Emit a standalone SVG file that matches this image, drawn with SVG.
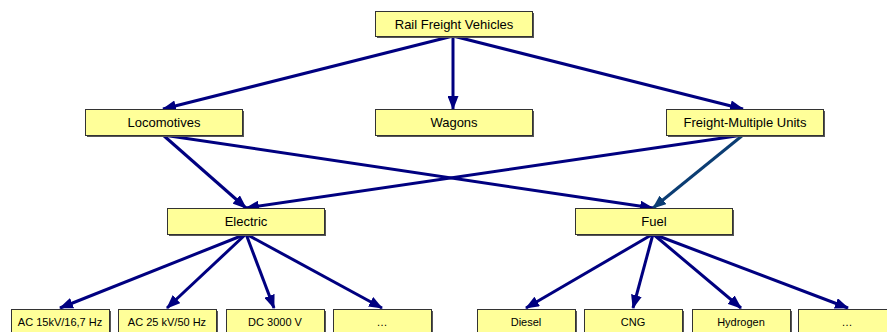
<svg xmlns="http://www.w3.org/2000/svg" width="887" height="332" viewBox="0 0 887 332">
<style>
.box{fill:#FFFF99;stroke:#333333;stroke-width:1}
.sh{fill:#555555}
.t{font-family:"Liberation Sans",Arial,sans-serif;font-size:13px;fill:#000;text-anchor:middle}
.s{font-family:"Liberation Sans",Arial,sans-serif;font-size:11px;fill:#000;text-anchor:middle}
.c{fill:none;stroke:#000080;stroke-width:3}
.c2{fill:none;stroke:#0B3D73;stroke-width:3}
</style>
<defs>
<marker id="a" viewBox="0 0 14 11" refX="13" refY="5.5" markerWidth="14" markerHeight="11" markerUnits="userSpaceOnUse" orient="auto">
<path d="M0,0 L14,5.5 L0,11 Z" fill="#000080"/>
</marker>
<marker id="a2" viewBox="0 0 14 11" refX="13" refY="5.5" markerWidth="14" markerHeight="11" markerUnits="userSpaceOnUse" orient="auto">
<path d="M0,0 L14,5.5 L0,11 Z" fill="#0B3D73"/>
</marker>
</defs>
<rect width="887" height="332" fill="#fff"/>
<g id="connectors">
<line class="c" x1="453" y1="36" x2="163" y2="109" marker-end="url(#a)"/>
<line class="c" x1="453" y1="36" x2="453" y2="109" marker-end="url(#a)"/>
<line class="c" x1="453" y1="36" x2="743" y2="109" marker-end="url(#a)"/>
<line class="c" x1="163" y1="135" x2="246" y2="208" marker-end="url(#a)"/>
<line class="c" x1="163" y1="135" x2="653" y2="208" marker-end="url(#a)"/>
<line class="c" x1="743" y1="135" x2="246" y2="208" marker-end="url(#a)"/>
<line class="c2" x1="743" y1="135" x2="653" y2="208" marker-end="url(#a2)"/>
<line class="c" x1="246" y1="234" x2="60" y2="308" marker-end="url(#a)"/>
<line class="c" x1="246" y1="234" x2="167" y2="308" marker-end="url(#a)"/>
<line class="c" x1="246" y1="234" x2="274" y2="308" marker-end="url(#a)"/>
<line class="c" x1="246" y1="234" x2="382" y2="308" marker-end="url(#a)"/>
<line class="c" x1="653" y1="234" x2="526" y2="308" marker-end="url(#a)"/>
<line class="c" x1="653" y1="234" x2="633" y2="308" marker-end="url(#a)"/>
<line class="c" x1="653" y1="234" x2="741" y2="308" marker-end="url(#a)"/>
<line class="c" x1="653" y1="234" x2="848" y2="308" marker-end="url(#a)"/>
</g>
<g id="n-rfv"><rect class="sh" x="377" y="13" width="157" height="25"/><rect class="box" x="375.5" y="11.5" width="157" height="25"/><text class="t" x="454" y="29">Rail Freight Vehicles</text></g>
<g id="n-loco"><rect class="sh" x="87" y="111" width="157" height="26"/><rect class="box" x="85.5" y="109.5" width="157" height="26"/><text class="t" x="164" y="127">Locomotives</text></g>
<g id="n-wagons"><rect class="sh" x="377" y="111" width="157" height="26"/><rect class="box" x="375.5" y="109.5" width="157" height="26"/><text class="t" x="454" y="127">Wagons</text></g>
<g id="n-fmu"><rect class="sh" x="668" y="111" width="157" height="26"/><rect class="box" x="666.5" y="109.5" width="157" height="26"/><text class="t" x="745" y="127">Freight-Multiple Units</text></g>
<g id="n-electric"><rect class="sh" x="169" y="210" width="157" height="26"/><rect class="box" x="167.5" y="208.5" width="157" height="26"/><text class="t" x="246" y="226">Electric</text></g>
<g id="n-fuel"><rect class="sh" x="577" y="210" width="157" height="26"/><rect class="box" x="575.5" y="208.5" width="157" height="26"/><text class="t" x="654" y="226">Fuel</text></g>
<g id="n-ac15"><rect class="sh" x="13" y="311" width="98" height="30"/><rect class="box" x="11.5" y="309.5" width="98" height="30"/><text class="s" x="60" y="326">AC 15kV/16,7 Hz</text></g>
<g id="n-ac25"><rect class="sh" x="120" y="311" width="98" height="30"/><rect class="box" x="118.5" y="309.5" width="98" height="30"/><text class="s" x="167" y="326">AC 25 kV/50 Hz</text></g>
<g id="n-dc"><rect class="sh" x="228" y="311" width="98" height="30"/><rect class="box" x="226.5" y="309.5" width="98" height="30"/><text class="s" x="275" y="326">DC 3000 V</text></g>
<g id="n-e-more"><rect class="sh" x="335" y="311" width="98" height="30"/><rect class="box" x="333.5" y="309.5" width="98" height="30"/><text class="s" x="382" y="326">…</text></g>
<g id="n-diesel"><rect class="sh" x="479" y="311" width="98" height="30"/><rect class="box" x="477.5" y="309.5" width="98" height="30"/><text class="s" x="526" y="326">Diesel</text></g>
<g id="n-cng"><rect class="sh" x="586" y="311" width="98" height="30"/><rect class="box" x="584.5" y="309.5" width="98" height="30"/><text class="s" x="633" y="326">CNG</text></g>
<g id="n-h2"><rect class="sh" x="694" y="311" width="98" height="30"/><rect class="box" x="692.5" y="309.5" width="98" height="30"/><text class="s" x="741" y="326">Hydrogen</text></g>
<g id="n-f-more"><rect class="sh" x="800" y="311" width="98" height="30"/><rect class="box" x="798.5" y="309.5" width="98" height="30"/><text class="s" x="847" y="326">…</text></g>
</svg>
